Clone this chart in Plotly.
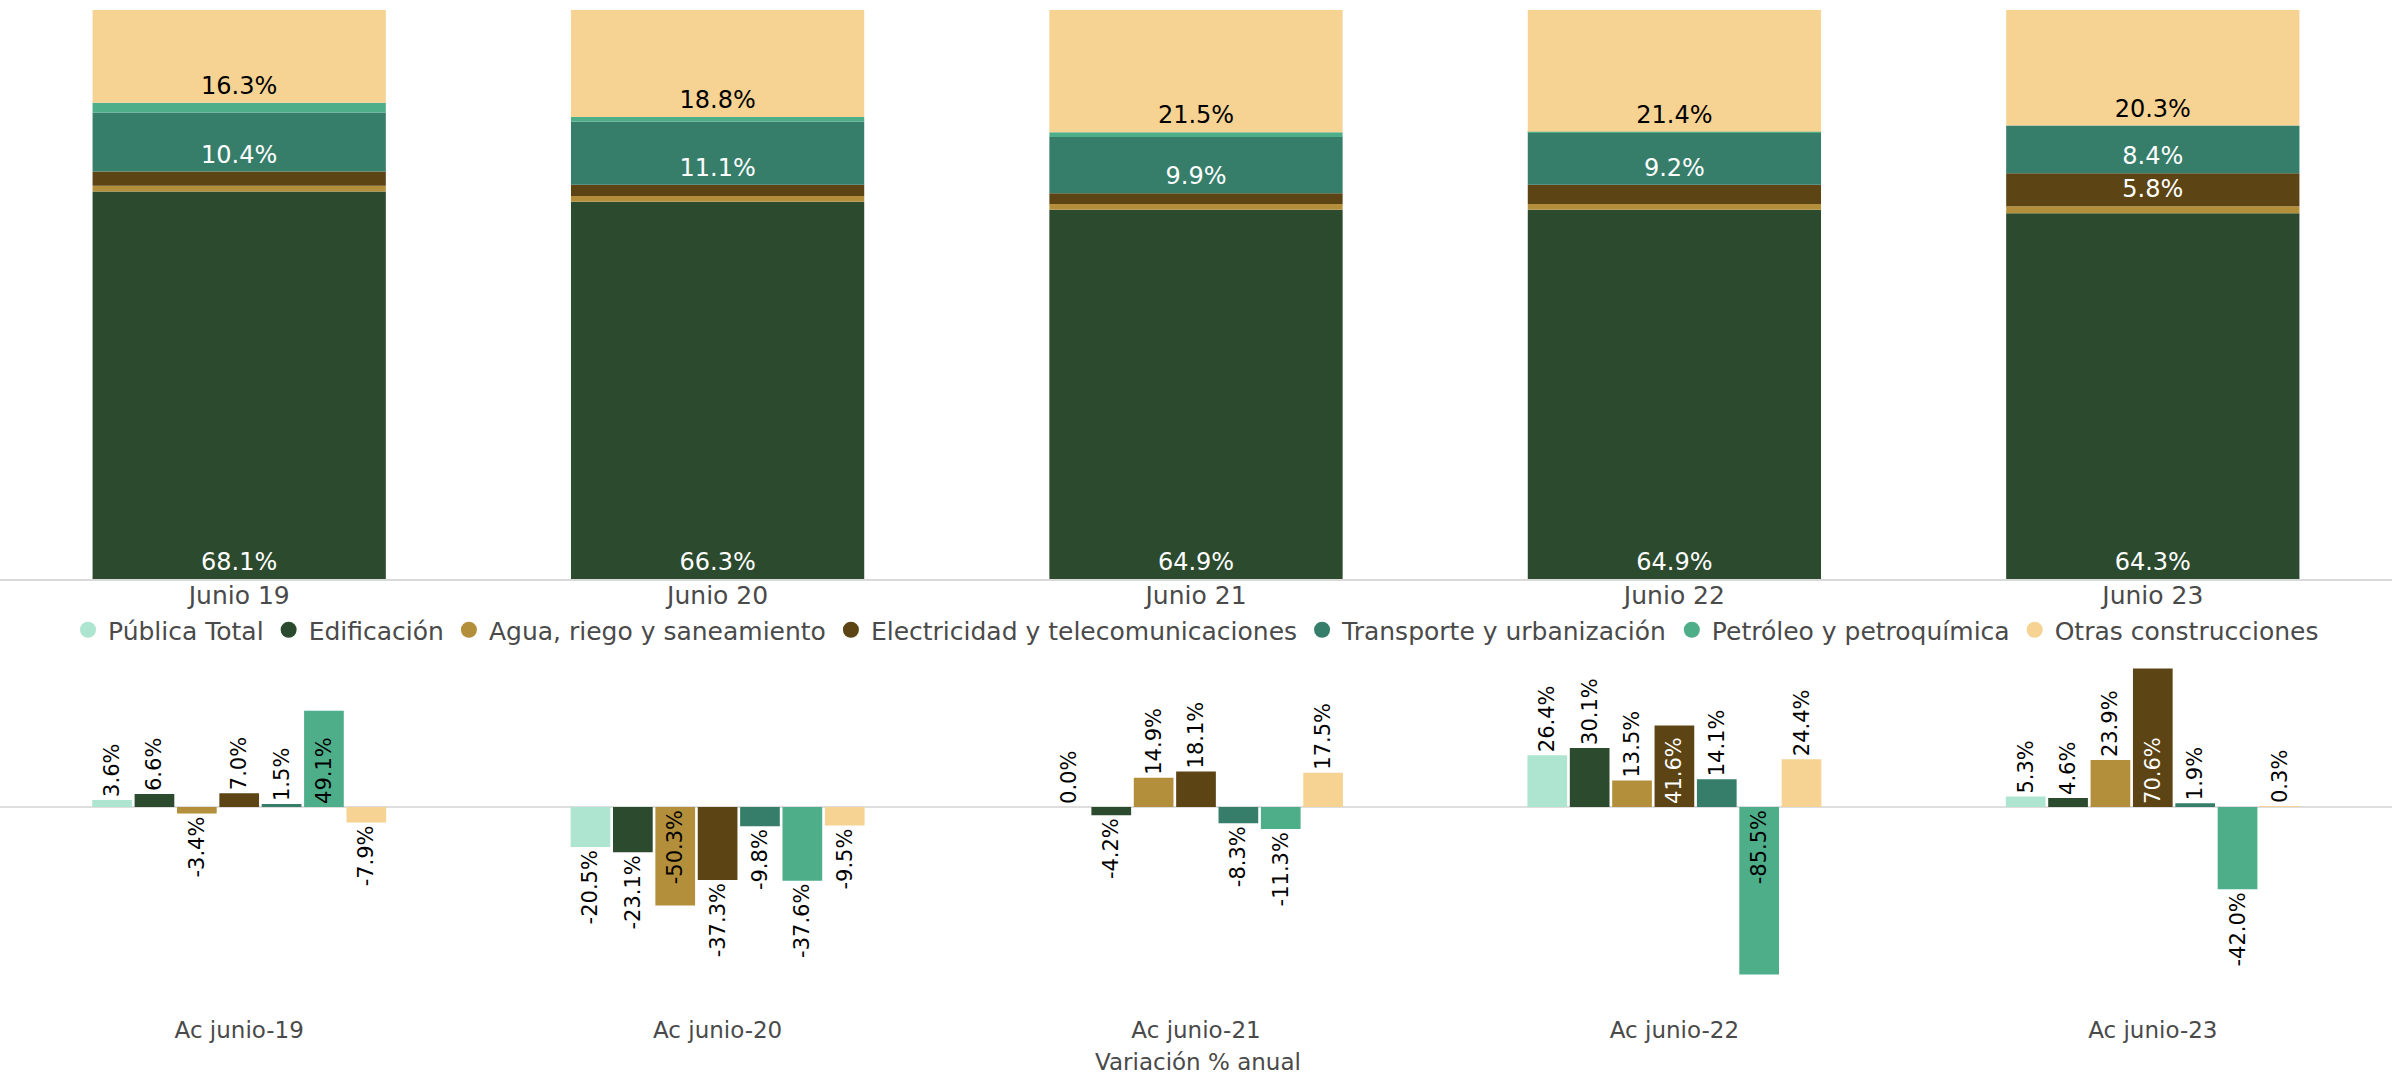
import numpy as np
import plotly.graph_objects as go

# ---------------- data ----------------
periods_top = ["Junio 19", "Junio 20", "Junio 21", "Junio 22", "Junio 23"]
periods_bottom = ["Ac junio-19", "Ac junio-20", "Ac junio-21", "Ac junio-22", "Ac junio-23"]

series = ["Pública Total", "Edificación", "Agua, riego y saneamiento",
          "Electricidad y telecomunicaciones", "Transporte y urbanización",
          "Petróleo y petroquímica", "Otras construcciones"]

# participation (%) in total – stacked chart (Pública Total not stacked)
edif_share = [68.1, 66.3, 64.9, 64.9, 64.3]
agua_share = [1.0, 1.0, 1.0, 1.0, 1.2]
elec_share = [2.5, 2.0, 1.9, 3.4, 5.8]
transp_share = [10.4, 11.1, 9.9, 9.2, 8.4]
petro_share = [1.7, 0.8, 0.8, 0.1, 0.0]
otras_share = [16.3, 18.8, 21.5, 21.4, 20.3]

# annual % variation – grouped chart
publica_var = [3.6, -20.5, 0.0, 26.4, 5.3]
edif_var = [6.6, -23.1, -4.2, 30.1, 4.6]
agua_var = [-3.4, -50.3, 14.9, 13.5, 23.9]
elec_var = [7.0, -37.3, 18.1, 41.6, 70.6]
transp_var = [1.5, -9.8, -8.3, 14.1, 1.9]
petro_var = [49.1, -37.6, -11.3, -85.5, -42.0]
otras_var = [-7.9, -9.5, 17.5, 24.4, 0.3]

colors = ["#aee5d1", "#2c4a2e", "#b48f3b", "#5c4414", "#377e6a", "#4eae8a", "#f6d393"]

FONT = "DejaVu Sans"
GREY = "#4a4a4a"
H = 1076.0

# bottom panel geometry
Y2_TOP_PX, Y2_BOT_PX = 640, 1008
Y2_RANGE = [-102.6, 85.2]
PX_PER_UNIT = (Y2_BOT_PX - Y2_TOP_PX) / (Y2_RANGE[1] - Y2_RANGE[0])
LABEL_SIZE = 21

fig = go.Figure()

# ---------------- top stacked chart ----------------
shares = [None, edif_share, agua_share, elec_share, transp_share, petro_share, otras_share]
share_text_color = [None, "white", "white", "white", "white", "black", "black"]
base = np.zeros(len(periods_top))
for i in range(1, 7):
    vals = np.array(shares[i], dtype=float)
    txt = [f"{v:.1f}%" if v >= 5 else "" for v in vals]
    fig.add_trace(go.Bar(
        x=periods_top, y=vals, base=base.copy(),
        xaxis="x", yaxis="y",
        width=0.613, offset=-0.3065,
        marker=dict(color=colors[i], line=dict(width=0)),
        text=txt, textposition="inside", insidetextanchor="start",
        textangle=0, constraintext="none",
        textfont=dict(family=FONT, size=24, color=share_text_color[i]),
        showlegend=False, name=series[i], hoverinfo="skip",
    ))
    base = base + vals

# ---------------- bottom grouped chart ----------------
variations = [publica_var, edif_var, agua_var, elec_var, transp_var, petro_var, otras_var]
inside_colors = ["black", "white", "black", "white", "white", "black", "black"]
for i in range(7):
    vals = variations[i]
    labels = [f"{v:.1f}%" for v in vals]
    # label goes inside the bar only when the rotated text fits in the bar length
    positions = ["inside" if len(l) * 13 + 8 <= abs(v) * PX_PER_UNIT else "outside"
                 for l, v in zip(labels, vals)]
    fig.add_trace(go.Bar(
        x=periods_bottom, y=vals,
        xaxis="x2", yaxis="y2",
        marker=dict(color=colors[i], line=dict(width=0)),
        text=labels, textposition=positions, textangle=-90,
        insidetextanchor="start", constraintext="none",
        insidetextfont=dict(family=FONT, size=LABEL_SIZE, color=inside_colors[i]),
        outsidetextfont=dict(family=FONT, size=LABEL_SIZE, color="black"),
        showlegend=False, name=series[i], hoverinfo="skip", cliponaxis=False,
    ))

# ---------------- legend (circle markers) ----------------
for i in range(7):
    fig.add_trace(go.Scatter(
        x=[None], y=[None], xaxis="x2", yaxis="y2", mode="markers",
        marker=dict(symbol="circle", size=20, color=colors[i]),
        name=series[i], showlegend=True, hoverinfo="skip",
    ))

fig.update_layout(
    width=2392, height=1076,
    margin=dict(l=0, r=0, t=0, b=0),
    paper_bgcolor="white", plot_bgcolor="white",
    barmode="group", bargap=0.38, bargroupgap=0.063,
    font=dict(family=FONT, color=GREY),
    xaxis=dict(domain=[0, 1], range=[-0.5, 4.5], anchor="y",
               showline=True, linecolor="#d9d9d9", linewidth=2,
               showgrid=False, zeroline=False, ticks="",
               ticklabelstandoff=-7,
               tickfont=dict(family=FONT, size=25, color=GREY)),
    yaxis=dict(domain=[1 - 579 / H, 1 - 10 / H], range=[0, 100], anchor="x",
               visible=False, showgrid=False, zeroline=False),
    xaxis2=dict(domain=[0, 1], range=[-0.5, 4.5], anchor="y2",
                showline=False, showgrid=False, zeroline=False, ticks="",
                ticklabelstandoff=6,
                tickfont=dict(family=FONT, size=23, color=GREY)),
    yaxis2=dict(domain=[1 - Y2_BOT_PX / H, 1 - Y2_TOP_PX / H], range=Y2_RANGE, anchor="x2",
                showticklabels=False, showgrid=False, showline=False, ticks="",
                zeroline=True, zerolinecolor="#dedede", zerolinewidth=2),
    legend=dict(orientation="h", x=0.5, xanchor="center", y=1 - 630 / H, yanchor="middle",
                font=dict(family=FONT, size=25, color=GREY),
                itemsizing="trace", itemwidth=30, bgcolor="rgba(0,0,0,0)",
                tracegroupgap=0),
    annotations=[dict(text="Variación % anual", x=0.501, y=1 - 1062 / H,
                      xref="paper", yref="paper", xanchor="center", yanchor="middle",
                      showarrow=False, font=dict(family=FONT, size=23, color=GREY))],
)

fig.write_html("out.html", config={"displayModeBar": False},
               post_script="document.body.style.margin='0px';"
                           "document.body.style.overflow='hidden';")
